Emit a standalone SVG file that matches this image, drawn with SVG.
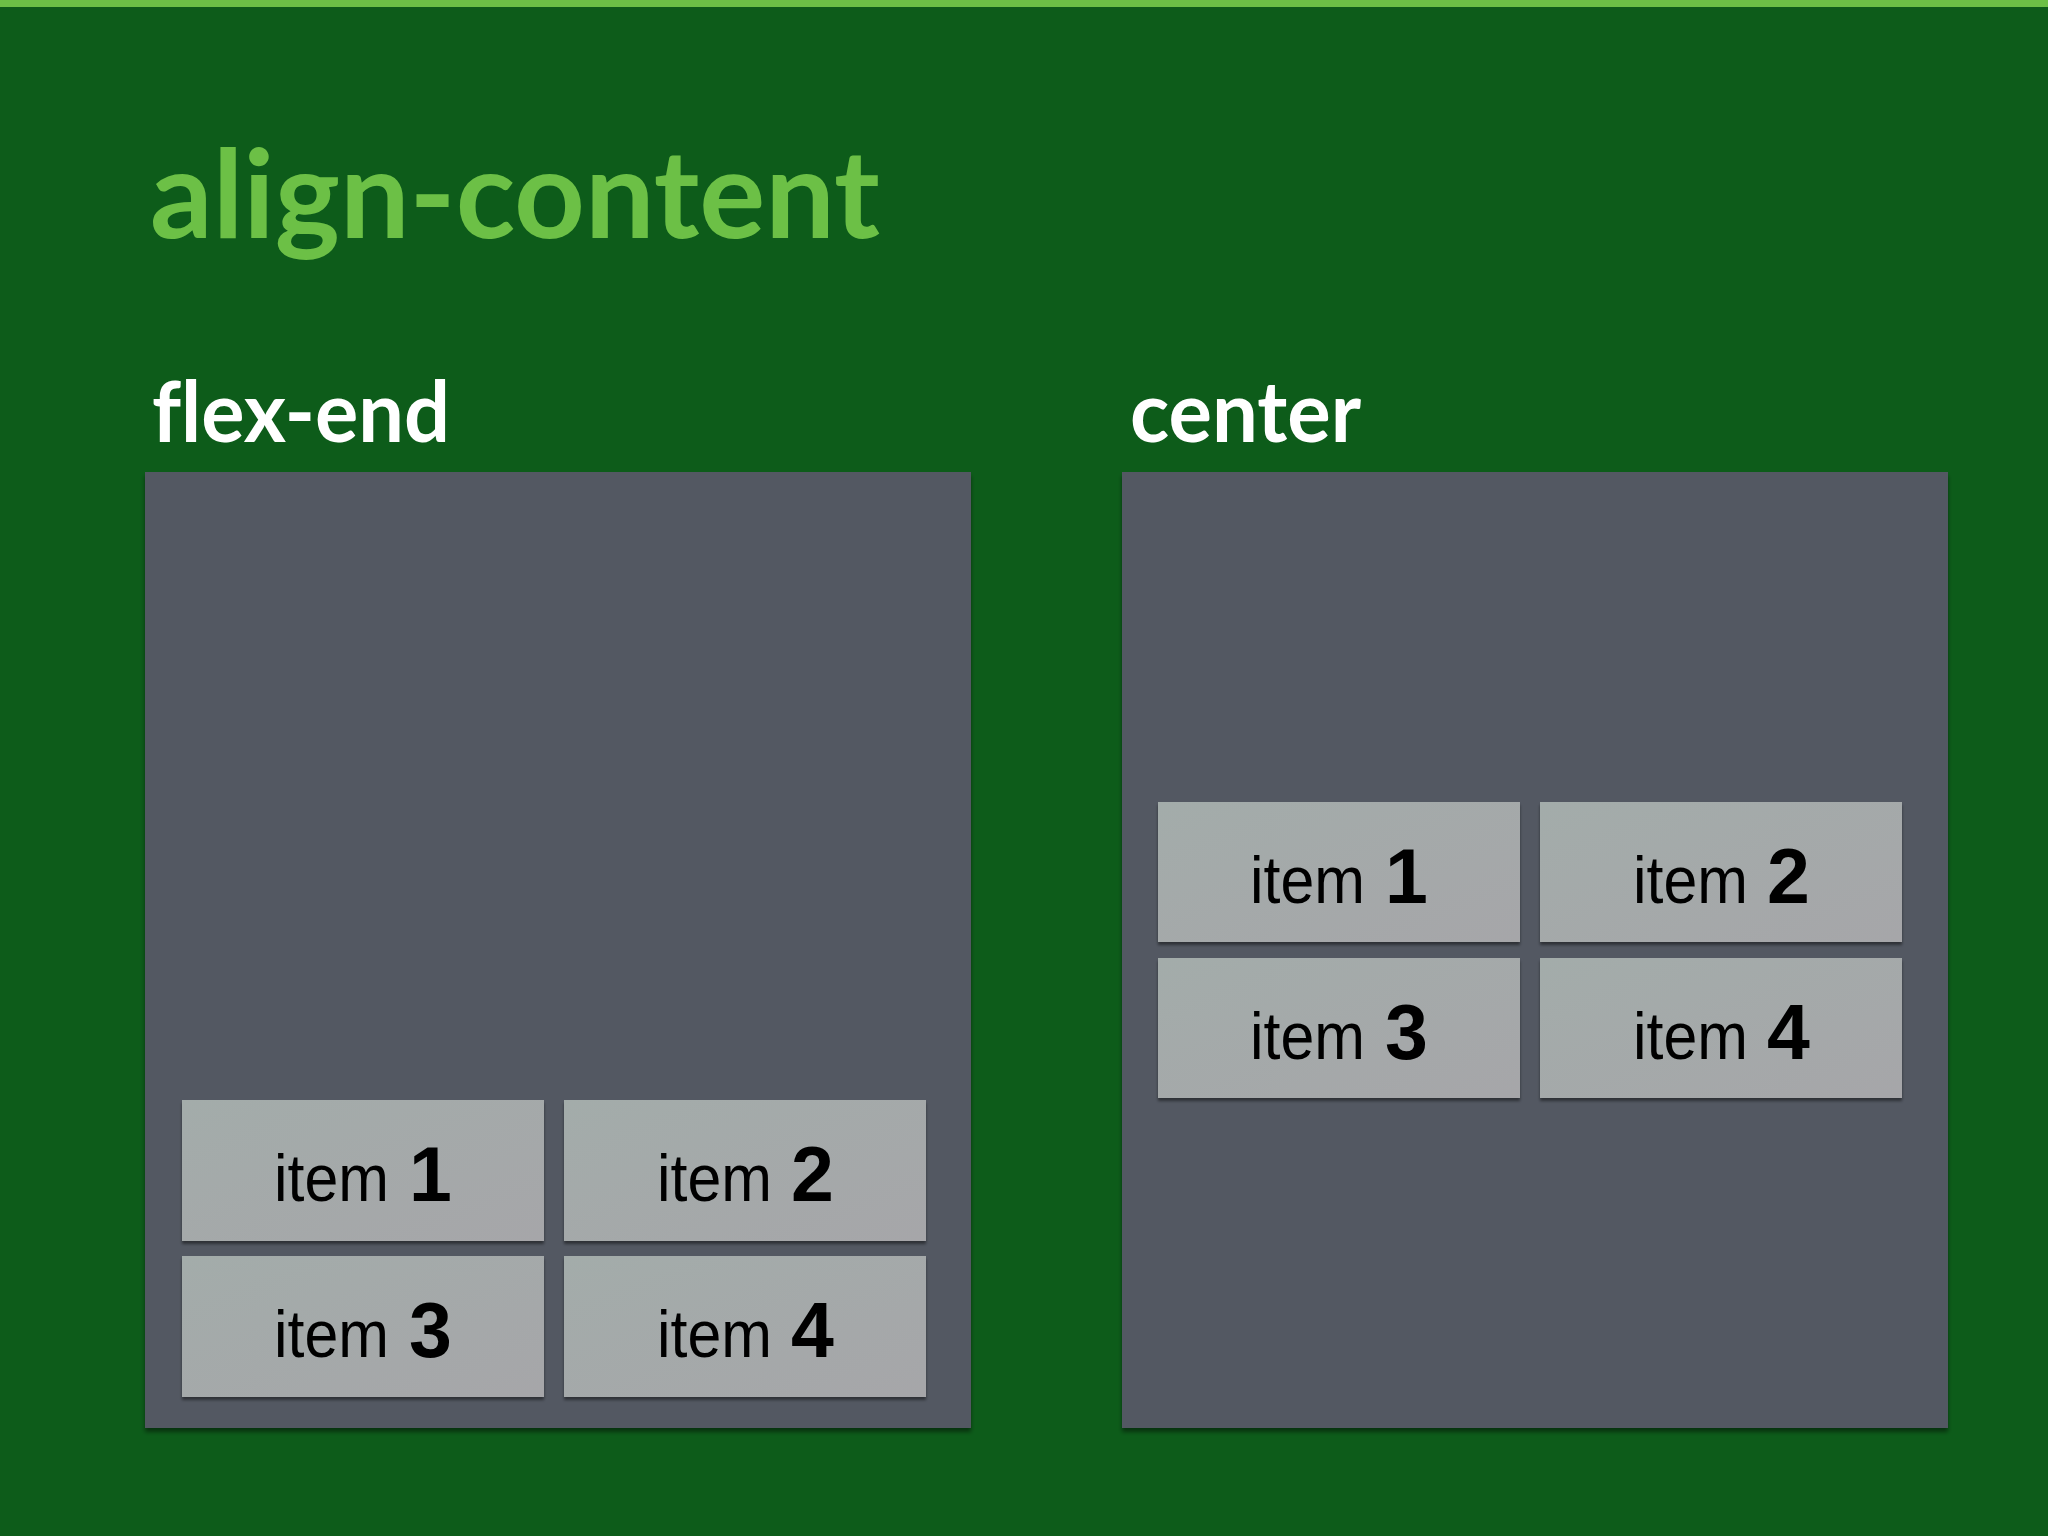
<svg xmlns="http://www.w3.org/2000/svg" width="2048" height="1536" viewBox="0 0 2048 1536">
  <defs>
    <linearGradient id="itemGrad" x1="0" y1="0" x2="1" y2="1">
      <stop offset="0" stop-color="#a3acaa"/>
      <stop offset="1" stop-color="#a6a6a9"/>
    </linearGradient>
    <filter id="boxShadow" x="-5%" y="-5%" width="110%" height="110%">
      <feDropShadow dx="0" dy="4" stdDeviation="2" flood-color="#000" flood-opacity="0.45"/>
    </filter>
    <filter id="itemShadow" x="-5%" y="-5%" width="110%" height="115%">
      <feDropShadow dx="0" dy="3" stdDeviation="1.5" flood-color="#000" flood-opacity="0.45"/>
    </filter>
  </defs>
  <style>
    .title { font-family: Lato, "Open Sans", sans-serif; font-weight: 700; fill: #6cc046; font-variant-ligatures: none; }
    .heading { font-family: Lato, "Open Sans", sans-serif; font-weight: 700; fill: #ffffff; font-variant-ligatures: none; }
    .box { fill: #525862; filter: url(#boxShadow); }
    .item { fill: url(#itemGrad); filter: url(#itemShadow); }
    .lbl { font-family: "Liberation Sans", Arial, sans-serif; fill: #000000; }
    .word { font-size: 66px; font-weight: 400; }
    .num { font-size: 77px; font-weight: 700; }
  </style>
  <rect x="0" y="0" width="2048" height="1536" fill="#0d5c1a"/>
  <rect x="0" y="0" width="2048" height="7" fill="#6cc046"/>

  <text class="title" x="150" y="238" font-size="122" textLength="730" lengthAdjust="spacingAndGlyphs">align-content</text>
  <text class="heading" x="152" y="442" font-size="84" textLength="298" lengthAdjust="spacingAndGlyphs">flex-end</text>
  <text class="heading" x="1130" y="442" font-size="84" textLength="231" lengthAdjust="spacingAndGlyphs">center</text>

  <g id="container-flex-end">
    <rect class="box" x="145" y="472" width="826" height="956"/>
  </g>
  <g id="container-center">
    <rect class="box" x="1122" y="472" width="826" height="956"/>
  </g>

  <g id="fe-item1">
    <rect class="item" x="182" y="1100" width="362" height="141"/>
    <text class="lbl" y="1201"><tspan class="word" x="274" textLength="115" lengthAdjust="spacingAndGlyphs">item</tspan><tspan class="num" x="409">1</tspan></text>
  </g>
  <g id="fe-item2">
    <rect class="item" x="564" y="1100" width="362" height="141"/>
    <text class="lbl" y="1201"><tspan class="word" x="657" textLength="115" lengthAdjust="spacingAndGlyphs">item</tspan><tspan class="num" x="791">2</tspan></text>
  </g>
  <g id="fe-item3">
    <rect class="item" x="182" y="1256" width="362" height="141"/>
    <text class="lbl" y="1357"><tspan class="word" x="274" textLength="115" lengthAdjust="spacingAndGlyphs">item</tspan><tspan class="num" x="409">3</tspan></text>
  </g>
  <g id="fe-item4">
    <rect class="item" x="564" y="1256" width="362" height="141"/>
    <text class="lbl" y="1357"><tspan class="word" x="657" textLength="115" lengthAdjust="spacingAndGlyphs">item</tspan><tspan class="num" x="791">4</tspan></text>
  </g>

  <g id="c-item1">
    <rect class="item" x="1158" y="802" width="362" height="140"/>
    <text class="lbl" y="903"><tspan class="word" x="1250" textLength="115" lengthAdjust="spacingAndGlyphs">item</tspan><tspan class="num" x="1385">1</tspan></text>
  </g>
  <g id="c-item2">
    <rect class="item" x="1540" y="802" width="362" height="140"/>
    <text class="lbl" y="903"><tspan class="word" x="1633" textLength="115" lengthAdjust="spacingAndGlyphs">item</tspan><tspan class="num" x="1767">2</tspan></text>
  </g>
  <g id="c-item3">
    <rect class="item" x="1158" y="958" width="362" height="140"/>
    <text class="lbl" y="1059"><tspan class="word" x="1250" textLength="115" lengthAdjust="spacingAndGlyphs">item</tspan><tspan class="num" x="1385">3</tspan></text>
  </g>
  <g id="c-item4">
    <rect class="item" x="1540" y="958" width="362" height="140"/>
    <text class="lbl" y="1059"><tspan class="word" x="1633" textLength="115" lengthAdjust="spacingAndGlyphs">item</tspan><tspan class="num" x="1767">4</tspan></text>
  </g>

  <g id="connectors"/>
</svg>
